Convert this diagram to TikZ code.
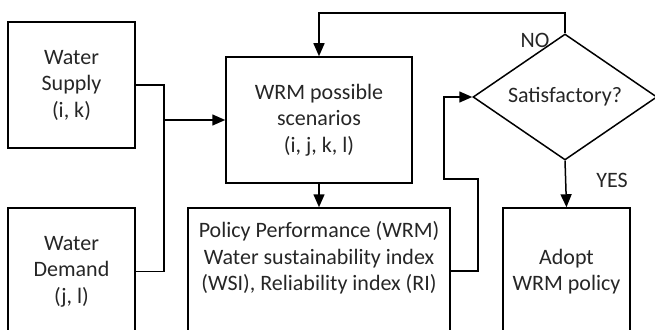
\documentclass[tikz,border=0pt]{standalone}
\usepackage{fontspec}
\setmainfont{Carlito}
\usetikzlibrary{arrows.meta,shapes.geometric}
\begin{document}
\begin{tikzpicture}[x=1pt,y=-1pt, line width=1.5pt,
  txt/.style={font=\fontsize{22}{26.5}\selectfont, align=center, inner sep=0pt, text=black!85},
  box/.style={draw, rectangle, inner sep=0pt, txt},
  arr/.style={-{Triangle[length=13pt,width=11pt]}}]
\useasboundingbox (0,0) rectangle (655,329);
\begin{scope}
\clip (0,0) rectangle (655,329);
\node[box, minimum width=127pt, minimum height=126pt] (sup) at (71.5,85) {Water\\Supply\\(i, k)};
\node[box, minimum width=127pt, minimum height=127pt] (dem) at (71.5,271.5) {Water\\Demand\\(j, l)};
\node[box, minimum width=186pt, minimum height=126pt] (scen) at (319,120) {WRM possible\\scenarios\\(i, j, k, l)};
\node[box, minimum width=262pt, minimum height=132pt] (pol) at (319,274) {};
\node[txt] (poltext) at (319,258) {Policy Performance (WRM)\\Water sustainability index\\(WSI), Reliability index (RI)};
\node[box, minimum width=127pt, minimum height=127pt] (adopt) at (566.5,271.5) {Adopt\\WRM policy};
\node[draw, diamond, inner sep=0pt, minimum width=184pt, minimum height=126pt, aspect=1.46, txt] (dia) at (565,97) {Satisfactory?};

\coordinate (j) at (164,120);
\draw (sup.east) -| (j);
\draw (dem.east) -| (j);
\draw[arr] (j) -- (scen.west);
\draw[arr] (scen.south) -- (pol.north);
\coordinate (top) at (565,13);
\draw[arr] (dia.north) -- (top) -| (scen.north);
\coordinate (p1) at (450,271);
\coordinate (p2) at (478,271);
\coordinate (p3) at (478,179);
\coordinate (p4) at (444,179);
\draw[arr] (p1) -- (p2) -- (p3) -- (p4) |- (dia.west);
\draw[arr] (dia.south) -- (adopt.north);
\node[txt] (no) at (535,40) {NO};
\node[txt] (yes) at (612,180) {YES};
\end{scope}
\end{tikzpicture}
\end{document}
